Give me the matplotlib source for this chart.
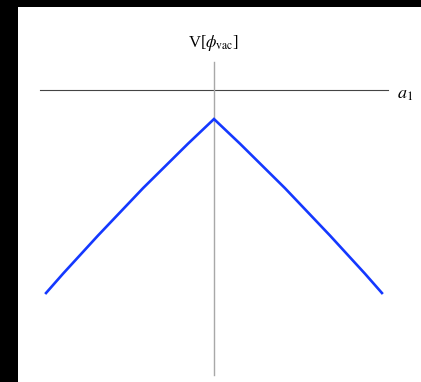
import matplotlib.pyplot as plt

plt.rcParams['font.family'] = ['Liberation Serif', 'DejaVu Serif']
plt.rcParams['mathtext.fontset'] = 'stix'

# vacuum energy along a1 (symmetric kink at the origin)
a1 = [-1.006, -0.904, -0.695, -0.425, -0.156, 0.0, 0.156, 0.425, 0.695, 0.904, 1.006]
V = [-1.216, -1.100, -0.872, -0.588, -0.322, -0.174,
     -0.322, -0.588, -0.872, -1.100, -1.216]

fig = plt.figure(figsize=(4.21, 3.82), dpi=100)
fig.patch.set_facecolor('black')
ax = fig.add_axes([18 / 421, 0, 403 / 421, 375 / 382])
ax.set_facecolor('white')
ax.set_xlim(-1.174, 1.240)
ax.set_ylim(-1.749, 0.497)
for s in ax.spines.values():
    s.set_visible(False)
ax.set_xticks([])
ax.set_yticks([])

# hand drawn axes through the origin
ax.plot([-1.043, 1.042], [0, 0], color='#444444', lw=0.8)
ax.plot([0, 0], [0.168, -1.707], color='#a8a8a8', lw=1.0)

ax.plot(a1, V, color='#1438ff', lw=1.9, solid_joinstyle='miter')

ax.text(0, 0.28, r'V[$\phi_{\rm vac}$]', ha='center', va='center', fontsize=12)
ax.text(1.095, -0.03, r'$a_1$', ha='left', va='center', fontsize=13)

fig.savefig('out.png', dpi=100, facecolor='black')
